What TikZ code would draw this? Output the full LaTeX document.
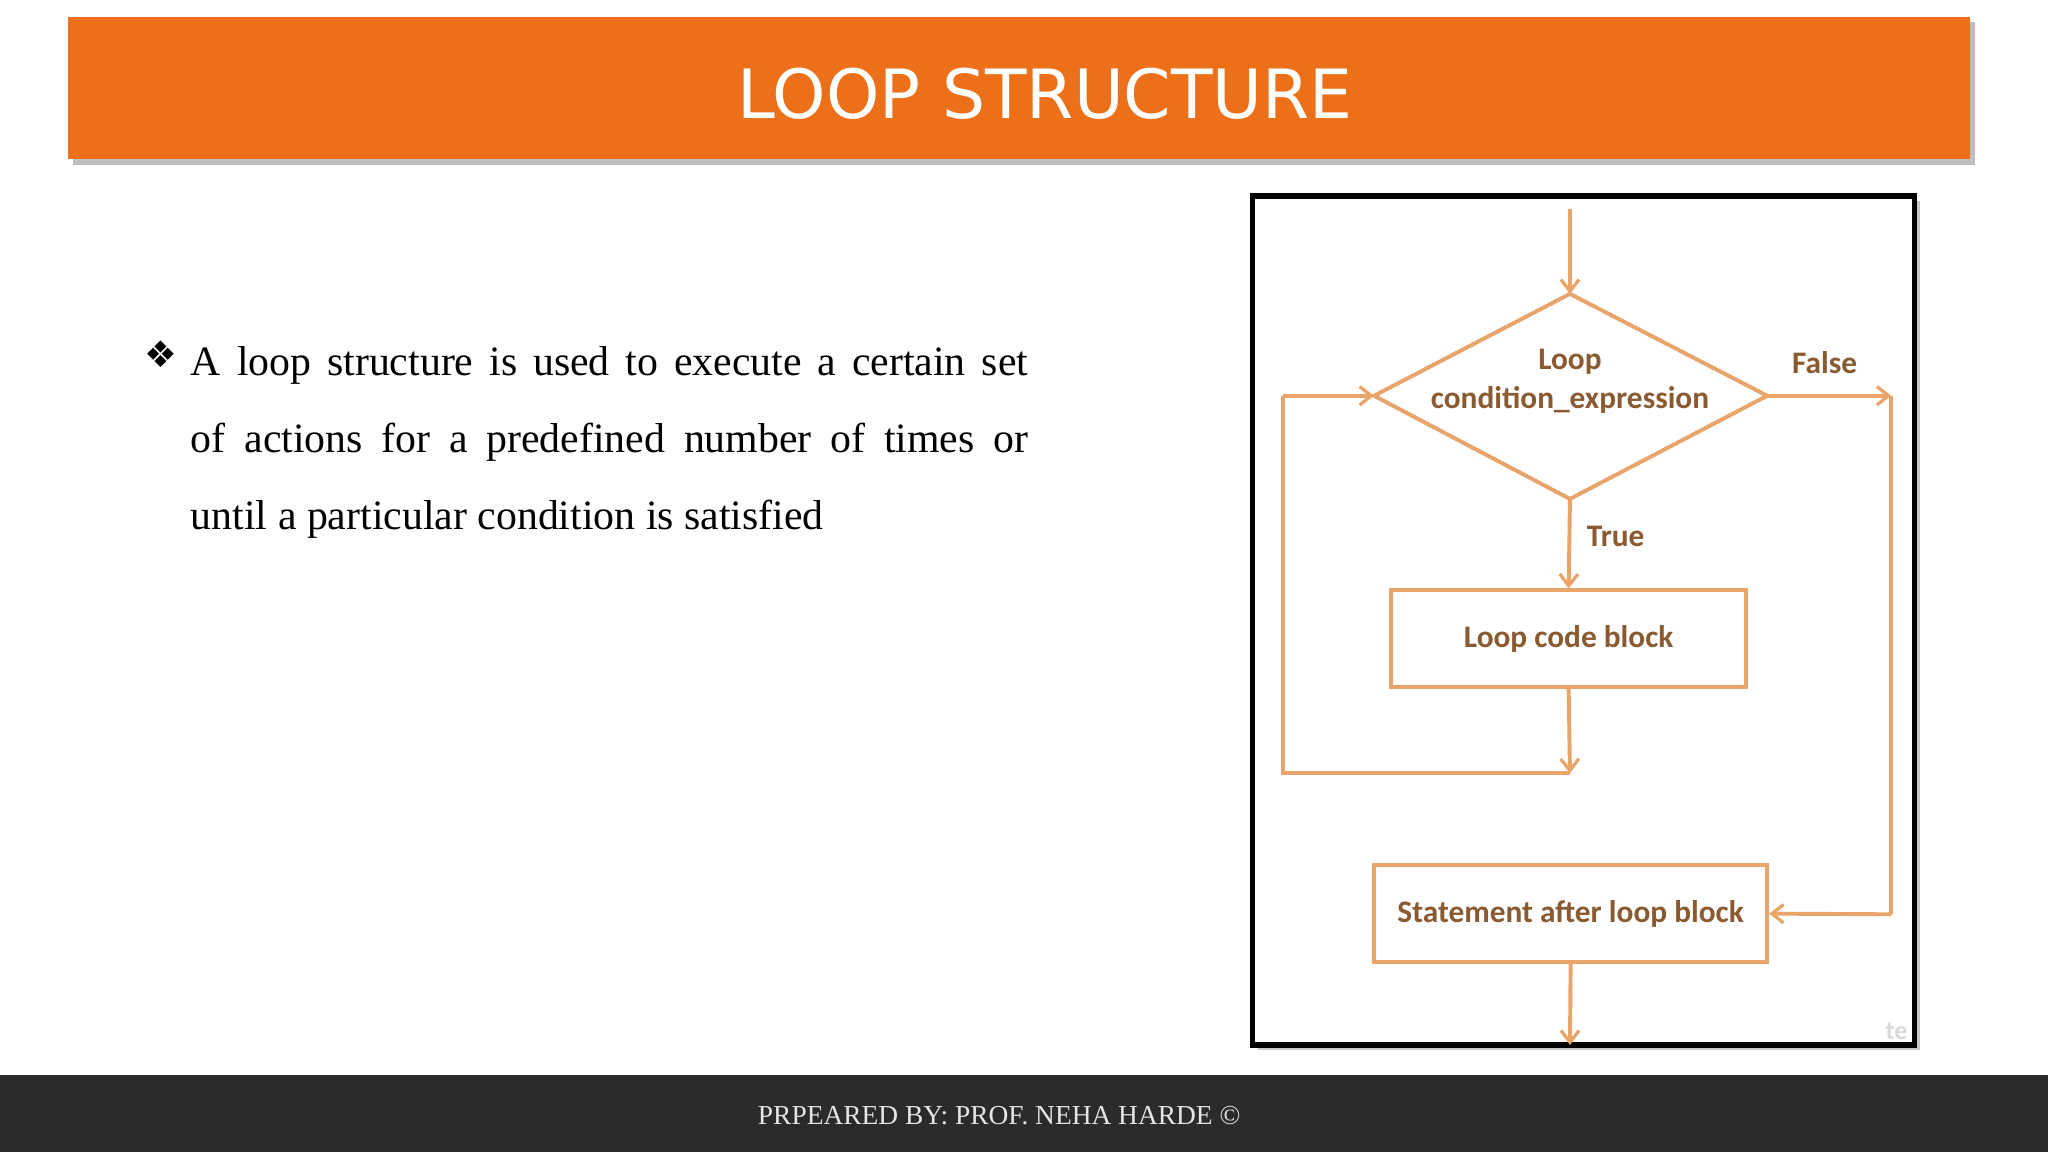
\documentclass[tikz,border=0pt]{standalone}
\usepackage{fontspec}
\setmainfont{Liberation Serif}
\newfontfamily\titlefont{DejaVu Sans}
\newfontfamily\fcfont{Carlito}
\newfontfamily\symfont{DejaVu Sans}
\usetikzlibrary{arrows.meta}
\definecolor{banner}{HTML}{EC7019}
\definecolor{fc}{HTML}{E9A469}
\definecolor{fctext}{HTML}{8A5A30}
\definecolor{footer}{HTML}{2B2B2B}
\tikzset{
  fcline/.style={draw=fc, line width=3pt},
  fcarrow/.style={fcline, -{Straight Barb[length=9pt,width=14pt,line width=2.5pt]}},
  fclabel/.style={text=fctext, font=\fcfont\bfseries\fontsize{24}{28}\selectfont},
  fcbox/.style={fcline, minimum height=74pt, fclabel}
}
\begin{document}
\begin{tikzpicture}[x=1pt,y=-1pt]
\useasboundingbox (0,0) rectangle (1568,882);
% banner
\fill[gray!50] (56,17) rectangle (1512,126);
\fill[banner] (52,13) rectangle (1508,122);
\node[text=white, font=\titlefont\fontsize{52}{60}\selectfont] (title) at (800,72) {LOOP STRUCTURE};
% bullet text
\node[font=\symfont\fontsize{28}{28}\selectfont] (bul) at (123,271) {❖};
\node[anchor=north west, text width=641pt, align=justify, inner sep=0pt,
  font=\fontsize{32}{59}\selectfont] (para) at (146,265)
  {\hyphenpenalty=10000\exhyphenpenalty=10000 A loop structure is used to execute a certain set\linebreak{} of actions for a predefined number of times or\linebreak{} until a particular condition is satisfied};
% frame
\fill[gray!45] (963,154) rectangle (1470,804);
\draw[fill=white, line width=4pt] (959,150) rectangle (1466,800);
% flowchart
\coordinate (in) at (1202,160);
\coordinate (dT) at (1202,225);
\coordinate (dL) at (1052,303);
\coordinate (dR) at (1353,303);
\coordinate (dB) at (1202,382);
\draw[fcline, line join=miter] (dT) -- (dR) -- (dB) -- (dL) -- cycle;
\node[fclabel] (cond1) at (1202,277) {Loop};
\node[fclabel] (cond2) at (1202,306) {condition\_expression};
\draw[fcarrow] (in) -- (dT);
\node[fclabel] (false) at (1397,278) {False};
\node[fclabel] (true) at (1237,411) {True};
\node[fcbox, minimum width=272pt] (body) at (1201,489) {Loop code block};
\node[fcbox, minimum width=301pt] (after) at (1202.5,699.5) {Statement after loop block};
\coordinate (fr) at (1448,303);
\coordinate (frd) at (1448,700);
\coordinate (bb) at (1202,592);
\coordinate (lb) at (982,592);
\coordinate (lt) at (982,303);
\coordinate (out) at (1202,800);
\draw[fcarrow] (dR) -- (fr);
\draw[fcline] (fr) -- (frd);
\draw[fcarrow] (frd) -- (after.east);
\draw[fcarrow] (dB) -- (body.north);
\draw[fcarrow] (body.south) -- (bb);
\draw[fcline] (bb) -- (lb) -- (lt);
\draw[fcarrow] (lt) -- (dL);
\draw[fcarrow] (after.south) -- (out);
\node[text=gray!30, font=\fcfont\bfseries\fontsize{20}{20}\selectfont] (wm) at (1452,790) {te};
% footer
\fill[footer] (0,823) rectangle (1568,882);
\node[text=white!90!black, font=\fontsize{21}{24}\selectfont] (foot) at (765,854) {PRPEARED BY: PROF. NEHA HARDE ©};
\end{tikzpicture}
\end{document}
